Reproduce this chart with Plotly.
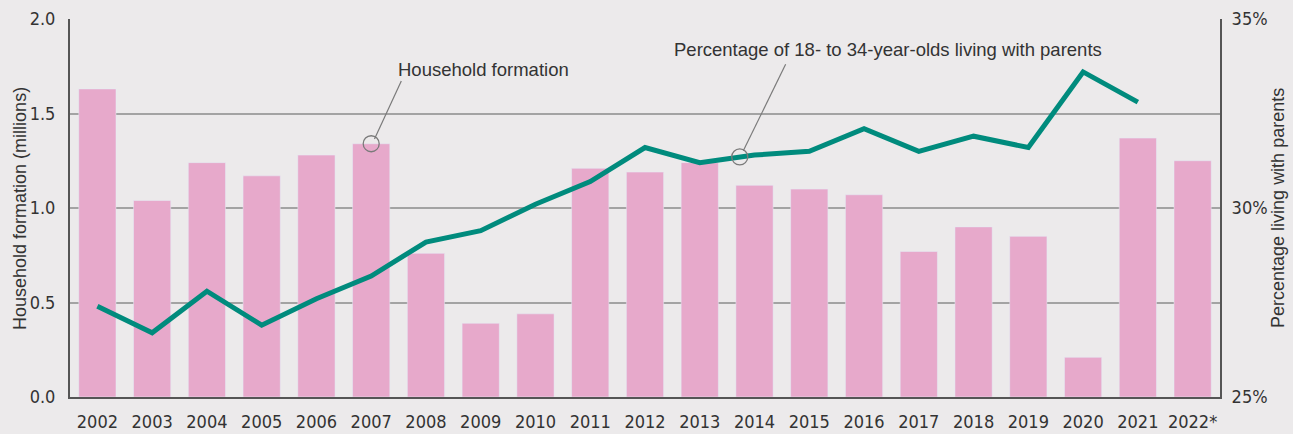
import plotly.graph_objects as go

years = ["2002", "2003", "2004", "2005", "2006", "2007", "2008", "2009", "2010", "2011", "2012",
         "2013", "2014", "2015", "2016", "2017", "2018", "2019", "2020", "2021", "2022*"]
household_formation = [1.63, 1.04, 1.24, 1.17, 1.28, 1.34, 0.76, 0.39, 0.44, 1.21, 1.19,
                       1.24, 1.12, 1.10, 1.07, 0.77, 0.90, 0.85, 0.21, 1.37, 1.25]
pct_with_parents = [27.4, 26.7, 27.8, 26.9, 27.6, 28.2, 29.1, 29.4, 30.1, 30.7, 31.6,
                    31.2, 31.4, 31.5, 32.1, 31.5, 31.9, 31.6, 33.6, 32.8, None]

BG = "#ECEAEB"
BAR = "#E7A9CB"
LINE = "#008B7D"
TXT = "#333333"
GRID = "#A3A3A3"
AX = "#555555"
NARROW = "Liberation Sans Narrow, Arial Narrow, DejaVu Sans Condensed, sans-serif"
SANS = "Liberation Sans, Arial, Helvetica, sans-serif"

idx = list(range(len(years)))

fig = go.Figure()
fig.add_trace(go.Bar(x=idx, y=household_formation, marker_color=BAR, width=0.68,
                     name="Household formation", yaxis="y"))
fig.add_trace(go.Scatter(x=idx[:len(pct_with_parents)], y=pct_with_parents, mode="lines",
                         line=dict(color=LINE, width=5), name="Percentage living with parents",
                         yaxis="y2", connectgaps=False))

# callout circles and leader lines
i2007 = years.index("2007")
fig.add_shape(type="circle", xref="x", yref="y", xsizemode="pixel", ysizemode="pixel",
              xanchor=i2007, yanchor=household_formation[i2007], x0=-8, x1=8, y0=-8, y1=8,
              line=dict(color="#7A7A7A", width=1.3), fillcolor="rgba(0,0,0,0)", layer="above")
fig.add_shape(type="line", xref="x", yref="y", x0=5.06, y0=1.365, x1=5.55, y1=1.672,
              line=dict(color="#7A7A7A", width=1.2))
fig.add_annotation(x=5.46, y=1.735, xref="x", yref="y", text="Household formation",
                   showarrow=False, xanchor="left", yanchor="middle",
                   font=dict(family=SANS, size=18.5, color=TXT))

fig.add_shape(type="circle", xref="x", yref="y2", xsizemode="pixel", ysizemode="pixel",
              xanchor=11.73, yanchor=31.35, x0=-8, x1=8, y0=-8, y1=8,
              line=dict(color="#7A7A7A", width=1.3), fillcolor="rgba(0,0,0,0)", layer="above")
fig.add_shape(type="line", xref="x", yref="y", x0=11.795, y0=1.303, x1=12.568, y1=1.760,
              line=dict(color="#7A7A7A", width=1.2))
fig.add_annotation(x=10.5, y=1.84, xref="x", yref="y",
                   text="Percentage of 18- to 34-year-olds living with parents",
                   showarrow=False, xanchor="left", yanchor="middle",
                   font=dict(family=SANS, size=18.5, color=TXT))

# axis titles
fig.add_annotation(x=-0.0435, y=0.5, xref="paper", yref="paper", textangle=-90,
                   text="Household formation (millions)", showarrow=False,
                   xanchor="center", yanchor="middle",
                   font=dict(family=SANS, size=18, color=TXT))
fig.add_annotation(x=1.0504, y=0.5, xref="paper", yref="paper", textangle=-90,
                   text="Percentage living with parents", showarrow=False,
                   xanchor="center", yanchor="middle",
                   font=dict(family=SANS, size=18, color=TXT))

fig.update_layout(
    width=1293, height=434,
    margin=dict(l=70, r=73, t=19, b=37),
    paper_bgcolor=BG, plot_bgcolor=BG,
    showlegend=False,
    bargap=0.32,
    xaxis=dict(range=[-0.5, len(years) - 0.5], tickmode="array", tickvals=idx, ticktext=years,
               showgrid=False, zeroline=False, showline=True, linecolor=AX, linewidth=2,
               ticks="", ticklabelstandoff=7, automargin=False,
               tickfont=dict(family=NARROW, size=18, color=TXT)),
    yaxis=dict(range=[0, 2.0], tickvals=[0, 0.5, 1.0, 1.5, 2.0],
               ticktext=["0.0", "0.5", "1.0", "1.5", "2.0"],
               showgrid=True, gridcolor=GRID, gridwidth=2, zeroline=False,
               showline=True, linecolor=AX, linewidth=2, ticks="", ticklabelstandoff=9,
               automargin=False,
               tickfont=dict(family=NARROW, size=18, color=TXT)),
    yaxis2=dict(range=[25, 35], tickvals=[25, 30, 35], ticktext=["25%", "30%", "35%"],
                overlaying="y", side="right", showgrid=False, zeroline=False,
                showline=True, linecolor=AX, linewidth=2, ticks="", ticklabelstandoff=6,
                automargin=False,
                tickfont=dict(family=NARROW, size=18, color=TXT)),
)

fig.write_html("out.html")
